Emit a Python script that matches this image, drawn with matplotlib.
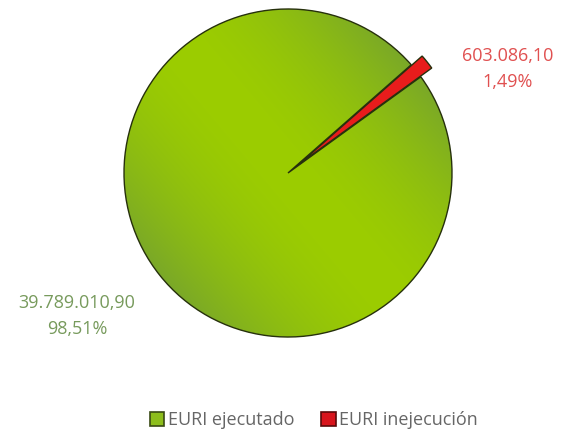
import numpy as np
import matplotlib
matplotlib.use("Agg")
import matplotlib.pyplot as plt
from matplotlib.patches import Patch

categories = ["EURI ejecutado", "EURI inejecución"]
values = [39789010.90, 603086.10]
value_labels = ["39.789.010,90", "603.086,10"]
pct_labels = ["98,51%", "1,49%"]

plt.rcParams['font.family'] = ['Open Sans', 'DejaVu Sans']

W, H = 565, 434
fig = plt.figure(figsize=(W / 100, H / 100), dpi=100)
ax = fig.add_axes([0, 0, 1, 1])

cx, cy, R = 288, H - 173, 164
green = "#98C90A"
red = "#E81C1C"

# explode is in data units (pixels here)
wedges, _ = ax.pie(values, colors=[green, red], startangle=41.3, counterclock=True,
                   center=(cx, cy), radius=R, explode=[0, 14],
                   wedgeprops=dict(edgecolor="#26300c", linewidth=1.0))
ax.set_xlim(0, W)
ax.set_ylim(0, H)
ax.set_aspect('auto')
ax.axis('off')

# gradient fill on the green wedge
n = 300
xs = np.linspace(cx - R, cx + R, n)
ys = np.linspace(cy - R, cy + R, n)
X, Y = np.meshgrid(xs, ys)
d = ((X - cx) * np.cos(np.radians(40)) + (Y - cy) * np.sin(np.radians(40))) / R
t = np.clip(np.abs(d) ** 1.8, 0, 1)
c0 = np.array([156, 205, 0]) / 255
c1 = np.array([122, 168, 40]) / 255
img = c0[None, None, :] * (1 - t[..., None]) + c1[None, None, :] * t[..., None]
im = ax.imshow(img, extent=(cx - R, cx + R, cy - R, cy + R), origin='lower',
               zorder=wedges[0].get_zorder() + 0.1, interpolation='bilinear')
im.set_clip_path(wedges[0])
wedges[0].set_facecolor("none")
wedges[0].set_zorder(im.get_zorder() + 0.1)
wedges[1].set_zorder(im.get_zorder() + 0.2)

fs = 13
ax.text(508, H - 56, value_labels[1], color="#E05050", fontsize=fs, ha="center", va="center")
ax.text(508, H - 82, pct_labels[1], color="#E05050", fontsize=fs, ha="center", va="center")
ax.text(77, H - 303, value_labels[0], color="#779A5C", fontsize=fs, ha="center", va="center")
ax.text(77, H - 329, pct_labels[0], color="#779A5C", fontsize=fs, ha="center", va="center")

handles = [Patch(facecolor="#8DBE1C", edgecolor="#3A4A14", linewidth=1.2),
           Patch(facecolor="#D8141C", edgecolor="#5A0A0A", linewidth=1.2)]
fig.legend(handles, categories, loc="center", bbox_to_anchor=(314 / W, 1 - 420 / H),
           ncol=2, frameon=False, fontsize=fs, labelcolor="#666666",
           handlelength=0.8, handleheight=0.8, handletextpad=0.2, columnspacing=1.5,
           borderpad=0, borderaxespad=0)

fig.savefig("out.png", dpi=100)
